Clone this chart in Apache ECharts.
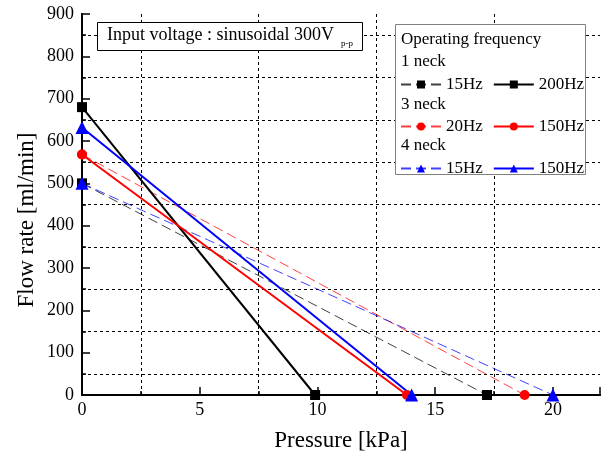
<!DOCTYPE html>
<html>
<head>
<meta charset="utf-8">
<script src="https://cdn.jsdelivr.net/npm/echarts@6/dist/echarts.min.js"></script>
<style>
html,body{margin:0;padding:0;background:#fff;}
#chart{width:606px;height:463px;}
</style>
</head>
<body>
<div id="chart"></div>
<script>
// Data
var xTicks = [0, 5, 10, 15, 20];
var yTicks = [0, 100, 200, 300, 400, 500, 600, 700, 800, 900];

var neck1_15Hz_x = [0, 17.2];
var neck1_15Hz_y = [500, 0];
var neck1_200Hz_x = [0, 9.9];
var neck1_200Hz_y = [680, 0];
var neck3_20Hz_x = [0, 18.8];
var neck3_20Hz_y = [568, 0];
var neck3_150Hz_x = [0, 13.8];
var neck3_150Hz_y = [568, 0];
var neck4_15Hz_x = [0, 20.0];
var neck4_15Hz_y = [500, 0];
var neck4_150Hz_x = [0, 14.0];
var neck4_150Hz_y = [632, 0];

function pts(xs, ys) { return xs.map(function (x, i) { return [x, ys[i]]; }); }

var FONT = '"Liberation Serif", "DejaVu Serif", serif';

var chart = echarts.init(document.getElementById('chart'));

function mkSeries(name, xs, ys, color, dashed, symbol, size) {
  return {
    name: name,
    type: 'line',
    data: pts(xs, ys),
    symbol: symbol,
    symbolSize: size,
    showSymbol: true,
    itemStyle: { color: color },
    lineStyle: dashed ? { color: color, width: 1, type: [10, 5], opacity: 0.75 } : { color: color, width: 2 },
    z: dashed ? 2 : 3,
    animation: false
  };
}

var series = [
  mkSeries('1 neck 15Hz', neck1_15Hz_x, neck1_15Hz_y, '#000000', true, 'rect', 10),
  mkSeries('3 neck 20Hz', neck3_20Hz_x, neck3_20Hz_y, '#ff0000', true, 'circle', 10),
  mkSeries('4 neck 15Hz', neck4_15Hz_x, neck4_15Hz_y, '#0000ff', true, 'triangle', 13),
  mkSeries('1 neck 200Hz', neck1_200Hz_x, neck1_200Hz_y, '#000000', false, 'rect', 10),
  mkSeries('3 neck 150Hz', neck3_150Hz_x, neck3_150Hz_y, '#ff0000', false, 'circle', 10),
  mkSeries('4 neck 150Hz', neck4_150Hz_x, neck4_150Hz_y, '#0000ff', false, 'triangle', 13)
];

function rowLegend(names, top) {
  return {
    data: names,
    left: 400,
    top: top,
    z: 60,
    orient: 'horizontal',
    itemWidth: 40,
    itemHeight: 10,
    itemGap: 10,
    selectedMode: false,
    formatter: function (n) { return n.replace(/^\d neck /, ''); },
    textStyle: { fontFamily: FONT, fontSize: 17, color: '#000', padding: [0, 0, 0, 0] },
    padding: 0
  };
}

var option = {
  backgroundColor: '#ffffff',
  animation: false,
  grid: { left: 82, right: 6, top: 14, bottom: 68, show: false, outerBoundsMode: 'none', containLabel: false },
  xAxis: [{
    type: 'value', min: 0, max: 22, interval: 5,
    name: 'Pressure [kPa]', nameLocation: 'middle', nameGap: 34,
    nameTextStyle: { fontFamily: FONT, fontSize: 23, color: '#000' },
    axisLine: { show: true, lineStyle: { color: '#000', width: 2 } },
    axisTick: { show: true, inside: true, length: 8, lineStyle: { color: '#000', width: 1.5 } },
    minorTick: { show: true, splitNumber: 2, length: 4, lineStyle: { color: '#000', width: 1.5 } },
    minorSplitLine: { show: true, lineStyle: { color: '#000', type: [3, 3], width: 1 } },
    splitLine: { show: false },
    axisLabel: { fontFamily: FONT, fontSize: 18, color: '#000', margin: 6,
      showMaxLabel: false,
      formatter: function (v) { return xTicks.indexOf(v) >= 0 ? String(v) : ''; } }
  }, {
    type: 'value', min: 0, max: 22, position: 'top',
    axisLine: { show: true, lineStyle: { color: '#000', width: 2 } },
    axisTick: { show: false }, axisLabel: { show: false }, splitLine: { show: false }
  }],
  yAxis: [{
    type: 'value', min: 0, max: 900, interval: 100,
    axisLine: { show: true, lineStyle: { color: '#000', width: 2 } },
    axisTick: { show: true, inside: true, length: 8, lineStyle: { color: '#000', width: 1.5 } },
    minorTick: { show: true, splitNumber: 2, length: 4, lineStyle: { color: '#000', width: 1.5 } },
    minorSplitLine: { show: true, lineStyle: { color: '#000', type: [3, 3], width: 1 } },
    splitLine: { show: false },
    axisLabel: { fontFamily: FONT, fontSize: 18, color: '#000', margin: 8,
      formatter: function (v) { return yTicks.indexOf(v) >= 0 ? String(v) : ''; } }
  }, {
    type: 'value', min: 0, max: 900, position: 'right',
    axisLine: { show: true, lineStyle: { color: '#000', width: 2 } },
    axisTick: { show: false }, axisLabel: { show: false }, splitLine: { show: false }
  }],
  legend: [
    rowLegend(['1 neck 15Hz', '1 neck 200Hz'], 76),
    rowLegend(['3 neck 20Hz', '3 neck 150Hz'], 118),
    rowLegend(['4 neck 15Hz', '4 neck 150Hz'], 160)
  ],
  graphic: [
    { type: 'text', x: 27, y: 220, rotation: Math.PI / 2, z: 51,
      style: { text: 'Flow rate [ml/min]', font: '23px ' + FONT, fill: '#000', align: 'center', verticalAlign: 'middle' } },
    { type: 'rect', shape: { x: 395.5, y: 24.5, width: 190, height: 150 },
      style: { fill: '#fff', stroke: '#808080', lineWidth: 1 }, z: 40 },
    { type: 'text', left: 401, top: 31, z: 51, style: { text: 'Operating frequency', font: '17px ' + FONT, fill: '#000' } },
    { type: 'text', left: 401, top: 53, z: 51, style: { text: '1 neck', font: '17px ' + FONT, fill: '#000' } },
    { type: 'text', left: 401, top: 96, z: 51, style: { text: '3 neck', font: '17px ' + FONT, fill: '#000' } },
    { type: 'text', left: 401, top: 137, z: 51, style: { text: '4 neck', font: '17px ' + FONT, fill: '#000' } },
    { type: 'rect', shape: { x: 97.5, y: 22.5, width: 265, height: 28 },
      style: { fill: '#fff', stroke: '#000', lineWidth: 1 }, z: 40 },
    { type: 'text', left: 107, top: 26, z: 51, style: { text: 'Input voltage : sinusoidal 300V', font: '18px ' + FONT, fill: '#000' } },
    { type: 'text', left: 341, top: 39, z: 51, style: { text: 'p-p', font: '9px ' + FONT, fill: '#000' } }
  ],
  series: series
};
chart.setOption(option);
</script>
</body>
</html>
